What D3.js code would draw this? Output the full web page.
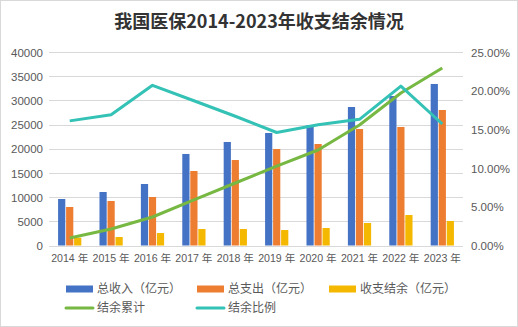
<!DOCTYPE html>
<html>
<head>
<meta charset="utf-8">
<script src="https://cdn.jsdelivr.net/npm/d3@7"></script>
<style>
  body { margin: 0; background: #fff; }
  text { font-family: "Liberation Sans", "Noto Sans CJK SC", sans-serif; }
</style>
</head>
<body>
<div id="chart"></div>
<script>
// data
const years = ["2014 年", "2015 年", "2016 年", "2017 年", "2018 年", "2019 年", "2020 年", "2021 年", "2022 年", "2023 年"];
const income = [9610, 11060, 12710, 18920, 21400, 23260, 24910, 28630, 30900, 33390];
const expense = [7960, 9200, 10030, 15400, 17670, 19950, 20980, 24080, 24500, 28010];
const balance = [1610, 1760, 2580, 3410, 3410, 3200, 3620, 4650, 6300, 5070];
const cumulative = [1550, 3410, 5890, 9410, 12920, 16430, 19740, 24910, 31520, 36690];
const ratio = [16.1, 16.9, 20.7, 18.7, 16.7, 14.6, 15.6, 16.3, 20.6, 15.7];
const leftTicks = [0, 5000, 10000, 15000, 20000, 25000, 30000, 35000, 40000];
const rightTicks = [0, 5, 10, 15, 20, 25];

const width = 518, height = 327;
const barKeys = ["income", "expense", "balance"];
const barColors = { income: "#4472C4", expense: "#ED7D31", balance: "#F5B800" };
const greenColor = "#77B843", tealColor = "#33C2B5";

const svg = d3.select("#chart").append("svg")
  .attr("width", width).attr("height", height);

// outer border
svg.append("rect")
  .attr("x", 0.5).attr("y", 0.5)
  .attr("width", width - 1).attr("height", height - 1)
  .attr("fill", "#fff").attr("stroke", "#d9d9d9");

svg.append("text")
  .attr("x", 259).attr("y", 28)
  .attr("text-anchor", "middle")
  .attr("font-size", 18).attr("font-weight", "bold")
  .attr("fill", "#333")
  .style("font-family", "'Noto Sans CJK SC', sans-serif")
  .text("我国医保2014-2023年收支结余情况");

const plot = { left: 49, right: 463, top: 52, bottom: 245.5 };

const x0 = d3.scaleBand().domain(years).range([plot.left, plot.right])
  .paddingInner(0.4).paddingOuter(0.2);
const x1 = d3.scaleBand().domain(barKeys).range([0, x0.bandwidth()]).padding(0.1);
const yL = d3.scaleLinear().domain([0, 40000]).range([plot.bottom, plot.top]);
const yR = d3.scaleLinear().domain([0, 25]).range([plot.bottom, plot.top]);

// gridlines
svg.append("g")
  .selectAll("line").data(leftTicks).join("line")
  .attr("x1", plot.left).attr("x2", plot.right)
  .attr("y1", d => Math.round(yL(d)) + 0.5).attr("y2", d => Math.round(yL(d)) + 0.5)
  .attr("stroke", "#d9d9d9").attr("stroke-width", 1);

// left axis
const axL = svg.append("g")
  .attr("transform", `translate(${plot.left - 6},0.5)`)
  .call(d3.axisLeft(yL).tickValues(leftTicks).tickSize(0).tickPadding(0).tickFormat(d => d));
axL.select(".domain").remove();
axL.selectAll("text").attr("font-size", 11.5).attr("fill", "#595959")
  .style("font-family", "'Liberation Sans', sans-serif");

// right axis
const axR = svg.append("g")
  .attr("transform", `translate(${plot.right + 8},0.5)`)
  .call(d3.axisRight(yR).tickValues(rightTicks).tickSize(0).tickPadding(0).tickFormat(d => d.toFixed(2) + "%"));
axR.select(".domain").remove();
axR.selectAll("text").attr("font-size", 11.5).attr("fill", "#595959")
  .style("font-family", "'Liberation Sans', sans-serif");

// x axis labels
const axX = svg.append("g")
  .attr("transform", `translate(0,${plot.bottom + 9})`)
  .call(d3.axisBottom(x0).tickSize(0).tickPadding(0));
axX.select(".domain").remove();
axX.selectAll("text").attr("font-size", 10.6).attr("fill", "#595959")
  .style("font-family", "'Liberation Sans', 'Noto Sans CJK SC', sans-serif");

// bars
const rows = years.map((y, i) => ({ year: y, income: income[i], expense: expense[i], balance: balance[i] }));
svg.append("g")
  .selectAll("g").data(rows).join("g")
  .attr("transform", d => `translate(${x0(d.year)},0)`)
  .selectAll("rect")
  .data(d => barKeys.map(k => ({ key: k, value: d[k] })))
  .join("rect")
  .attr("x", d => x1(d.key))
  .attr("width", x1.bandwidth())
  .attr("y", d => yL(d.value))
  .attr("height", d => yL(0) - yL(d.value))
  .attr("fill", d => barColors[d.key]);

const cx = d => x0(d) + x0.bandwidth() / 2;

svg.append("path")
  .datum(cumulative)
  .attr("fill", "none").attr("stroke", greenColor).attr("stroke-width", 3)
  .attr("stroke-linejoin", "round")
  .attr("d", d3.line().x((d, i) => cx(years[i])).y(d => yL(d)));

svg.append("path")
  .datum(ratio)
  .attr("fill", "none").attr("stroke", tealColor).attr("stroke-width", 3)
  .attr("stroke-linejoin", "round")
  .attr("d", d3.line().x((d, i) => cx(years[i])).y(d => yR(d)));

// legend
const legend = [
  { label: "总收入（亿元）", color: barColors.income, type: "rect", x: 66, y: 289 },
  { label: "总支出（亿元）", color: barColors.expense, type: "rect", x: 197, y: 289 },
  { label: "收支结余（亿元）", color: barColors.balance, type: "rect", x: 329, y: 289 },
  { label: "结余累计", color: greenColor, type: "line", x: 66, y: 308 },
  { label: "结余比例", color: tealColor, type: "line", x: 197, y: 308 }
];
const lg = svg.append("g").selectAll("g").data(legend).join("g")
  .attr("transform", d => `translate(${d.x},${d.y})`);
lg.filter(d => d.type === "rect").append("rect")
  .attr("x", 0).attr("y", -3.5).attr("width", 27).attr("height", 7)
  .attr("fill", d => d.color);
lg.filter(d => d.type === "line").append("line")
  .attr("x1", 0).attr("x2", 27).attr("y1", 0).attr("y2", 0)
  .attr("stroke", d => d.color).attr("stroke-width", 3).attr("stroke-linecap", "round");
lg.append("text")
  .attr("x", 31).attr("y", 0).attr("dy", "0.35em")
  .attr("font-size", 12).attr("fill", "#595959")
  .style("font-family", "'Noto Sans CJK SC', sans-serif")
  .text(d => d.label);
</script>
</body>
</html>
